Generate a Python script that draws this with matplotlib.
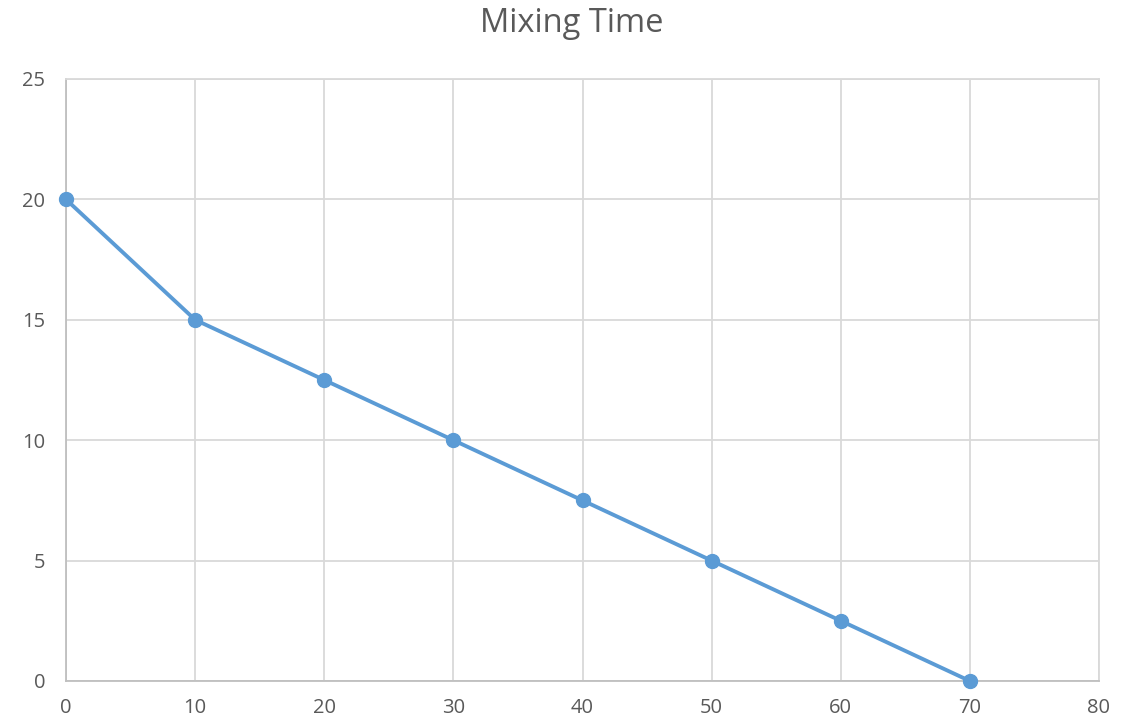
import matplotlib
matplotlib.use("Agg")
import matplotlib.pyplot as plt

# Mixing time series
x_values = [0, 10, 20, 30, 40, 50, 60, 70]
y_values = [20, 15, 12.5, 10, 7.5, 5, 2.5, 0]
x_ticks = [0, 10, 20, 30, 40, 50, 60, 70, 80]
y_ticks = [0, 5, 10, 15, 20, 25]
title = "Mixing Time"

plt.rcParams['font.family'] = ['Open Sans', 'DejaVu Sans']

fig = plt.figure(figsize=(11.35, 7.23), dpi=100)
ax = fig.add_axes([66 / 1135, 1 - 681 / 723, (1099 - 66) / 1135, (681 - 79) / 723])

line_color = '#5B9BD5'
ax.plot(x_values, y_values, color=line_color, linewidth=2.8, marker='o',
        markersize=10, markerfacecolor=line_color, markeredgecolor=line_color,
        zorder=3, clip_on=False)

ax.set_xlim(0, 80)
ax.set_ylim(0, 25)
ax.set_xticks(x_ticks)
ax.set_yticks(y_ticks)

ax.grid(True, color='#d9d9d9', linewidth=1.3)
ax.set_axisbelow(True)
for side in ['top', 'right']:
    ax.spines[side].set_color('#d9d9d9')
    ax.spines[side].set_linewidth(1.3)
for side in ['left', 'bottom']:
    ax.spines[side].set_color('#bfbfbf')
    ax.spines[side].set_linewidth(1.3)

ax.tick_params(axis='both', length=0, labelsize=14.5, labelcolor='#595959')
ax.tick_params(axis='x', pad=12)
ax.tick_params(axis='y', pad=15)

fig.text(572 / 1135, 1 - 24 / 723, title, ha='center', va='center',
         fontsize=23.5, color='#595959')

fig.savefig('out.png', dpi=100, facecolor='white')
